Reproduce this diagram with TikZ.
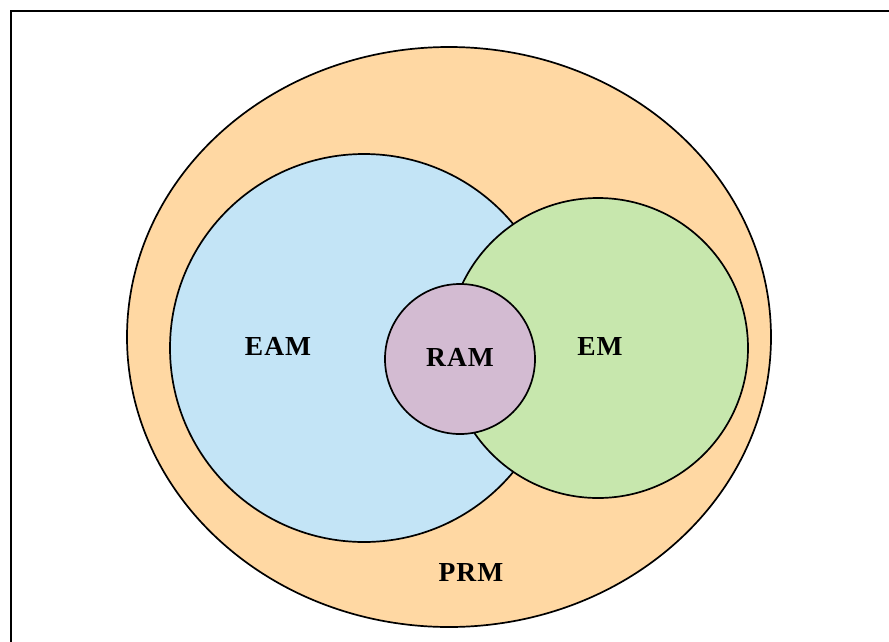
\documentclass[tikz,border=0pt]{standalone}
\usepackage{fontspec}
\setmainfont{Liberation Serif}
\definecolor{cprm}{HTML}{FFD8A3}
\definecolor{ceam}{HTML}{C3E4F6}
\definecolor{cem}{HTML}{C7E7AD}
\definecolor{cram}{HTML}{D3BBD2}
\begin{document}
\begin{tikzpicture}[x=1pt,y=-1pt,
  setshape/.style={draw=black,line width=1.7pt},
  lbl/.style={font=\fontsize{27.5}{32}\selectfont\bfseries,inner sep=0pt}]
\useasboundingbox (0,0) rectangle (889,641);
\begin{scope}
\clip (0,0) rectangle (889,641);
\draw[line width=2.8pt] (11,11) rectangle (905,660);
\end{scope}
\draw[setshape,fill=cprm] (449,337) ellipse [x radius=322, y radius=290];
\draw[setshape,fill=ceam] (364,348) circle [radius=194];
\draw[setshape,fill=cem] (598,348) circle [radius=150];
\draw[setshape,fill=cram] (460,359) circle [radius=75];
\node[lbl] (eam) at (278,346) {E\kern1ptA\kern1ptM};
\node[lbl] (em) at (600,346) {E\kern1ptM};
\node[lbl] (ram) at (460,357) {R\kern1ptA\kern1ptM};
\node[lbl] (prm) at (471,572) {P\kern1ptR\kern1ptM};
\end{tikzpicture}
\end{document}
